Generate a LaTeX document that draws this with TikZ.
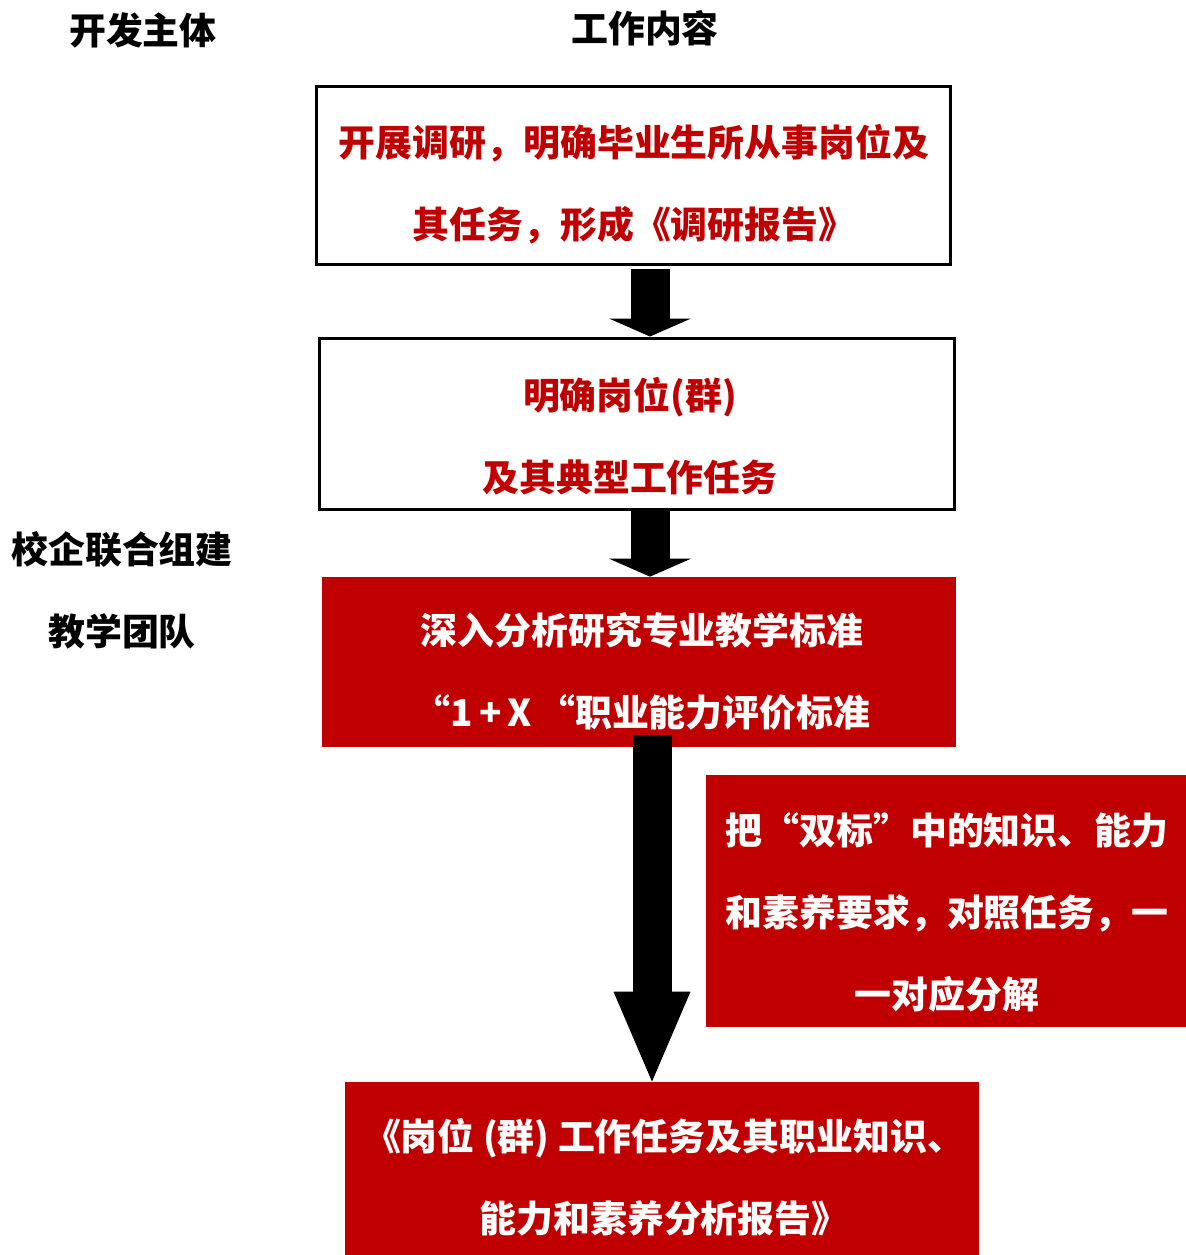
\documentclass[tikz,border=0pt]{standalone}
\usepackage{fontspec}
\usepackage{tikz}
\usetikzlibrary{arrows.meta}
\newfontfamily\cjk{Noto Sans CJK SC}
\definecolor{deepred}{HTML}{C00000}
\tikzstyle{box} = [draw=black, line width=0.06cm, fill=white, inner sep=0pt]
\tikzstyle{redbox} = [fill=deepred, inner sep=0pt]
\tikzstyle{txt} = [font=\cjk\bfseries\fontsize{21pt}{46.7pt}\selectfont, align=center, inner sep=0pt]
\tikzstyle{fatarrow} = [line width=0.78cm, black]

\begin{document}
\begin{tikzpicture}[x=0.02cm, y=-0.02cm]
        \useasboundingbox (0,0) rectangle (1186,1255);
        % column headings
        \node[txt] (h1) at (143,30) {开发主体};
        \node[txt] (h2) at (645,28) {工作内容};
        \node[txt] (team) at (122,590) {校企联合组建\\教学团队};

        % boxes
        \node[box, minimum width=12.7cm, minimum height=3.58cm] (b1) at (633.5,175.5) {};
        \node[txt, text=deepred] (t1) at (634,184) {开展调研，明确毕业生所从事岗位及\\其任务，形成《调研报告》};
        \node[box, minimum width=12.72cm, minimum height=3.44cm] (b2) at (637,424) {};
        \node[txt, text=deepred] (t2) at (630,436.5) {明确岗位(群)\\及其典型工作任务};
        \node[redbox, minimum width=12.68cm, minimum height=3.4cm] (b3) at (639,662) {};
        \node[txt, text=white] (t3) at (642,671.5) {深入分析研究专业教学标准\\“1\,+\,X\,“职业能力评价标准};
        \node[redbox, minimum width=9.6cm, minimum height=5.04cm] (b4) at (946,901) {};
        \node[txt, text=white] (t4) at (947,912) {把“双标”中的知识、能力\\和素养要求，对照任务，一\\一对应分解};
        \node[redbox, minimum width=12.68cm, minimum height=3.46cm] (b5) at (662,1168.5) {};
        \node[txt, text=white] (t5) at (664,1177.5) {《岗位 (群) 工作任务及其职业知识、\\能力和素养分析报告》};

        % arrows
        \coordinate (ax) at (650,0);
        \coordinate (ay) at (652,0);
        \draw[fatarrow, shorten <=0.06cm, -{Triangle[width=1.64cm,length=0.36cm,line width=0pt]}] (b1.south -| ax) -- (b2.north -| ax);
        \draw[fatarrow, -{Triangle[width=1.64cm,length=0.36cm,line width=0pt]}] (b2.south -| ax) -- (b3.north -| ax);
        \draw[fatarrow, shorten <=-0.24cm, -{Triangle[width=1.54cm,length=1.8cm,line width=0pt]}] (b3.south -| ay) -- (b5.north -| ay);

    \end{tikzpicture}
\end{document}
